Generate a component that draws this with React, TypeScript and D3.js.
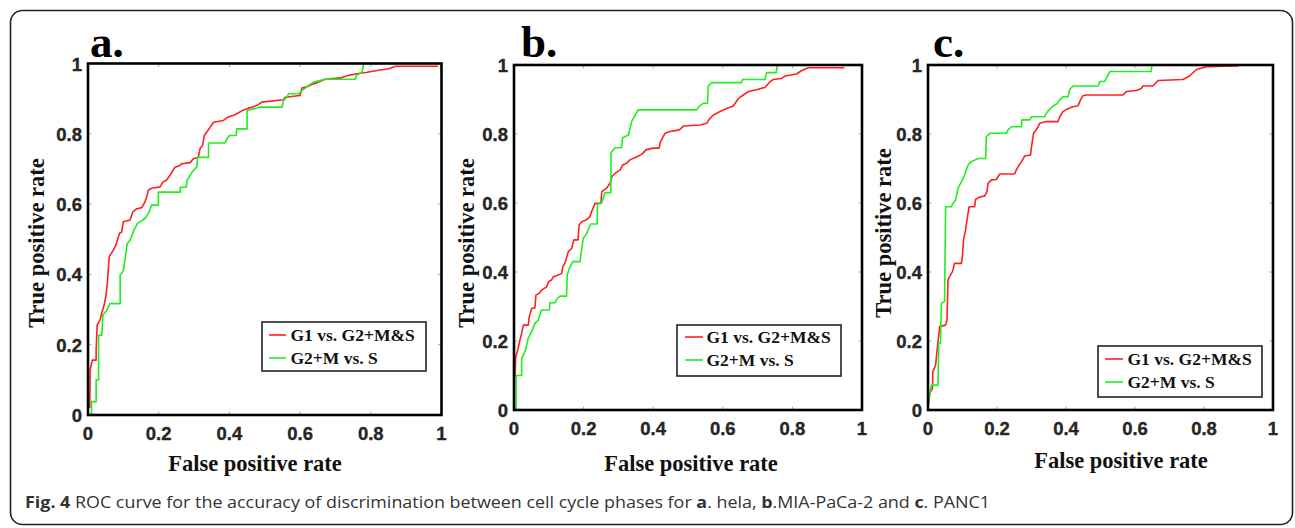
import React from "react";
import * as d3 from "d3";

type Pt = [number, number];

// ---------- data (FPR, TPR) ----------
const helaG1: Pt[] = [[0.005,0.02],[0.006,0.128],[0.012,0.156],[0.023,0.156],[0.023,0.185],[0.026,0.256],[0.034,0.27],[0.039,0.29],[0.045,0.31],[0.051,0.34],[0.055,0.378],[0.06,0.45],[0.066,0.46],[0.072,0.47],[0.079,0.483],[0.089,0.517],[0.095,0.52],[0.1,0.55],[0.119,0.555],[0.127,0.578],[0.138,0.587],[0.152,0.59],[0.161,0.606],[0.166,0.62],[0.171,0.64],[0.18,0.645],[0.204,0.649],[0.212,0.663],[0.222,0.668],[0.232,0.682],[0.246,0.705],[0.26,0.71],[0.265,0.715],[0.289,0.718],[0.298,0.729],[0.312,0.733],[0.317,0.758],[0.324,0.767],[0.329,0.795],[0.336,0.805],[0.346,0.819],[0.355,0.833],[0.383,0.838],[0.397,0.848],[0.412,0.853],[0.426,0.86],[0.44,0.868],[0.454,0.873],[0.468,0.877],[0.478,0.881],[0.492,0.89],[0.553,0.897],[0.558,0.904],[0.6,0.909],[0.605,0.93],[0.62,0.934],[0.638,0.942],[0.652,0.947],[0.671,0.955],[0.714,0.959],[0.733,0.965],[0.756,0.97],[0.79,0.975],[0.818,0.98],[0.851,0.985],[0.87,0.992],[0.99,0.992]];
const helaG2M: Pt[] = [[0.01,0],[0.01,0.038],[0.023,0.038],[0.023,0.1],[0.03,0.1],[0.03,0.227],[0.039,0.227],[0.042,0.284],[0.053,0.298],[0.062,0.317],[0.091,0.317],[0.091,0.398],[0.1,0.41],[0.111,0.488],[0.119,0.497],[0.13,0.526],[0.14,0.545],[0.161,0.559],[0.171,0.573],[0.18,0.597],[0.199,0.597],[0.199,0.634],[0.261,0.634],[0.261,0.648],[0.278,0.648],[0.28,0.667],[0.289,0.682],[0.298,0.696],[0.308,0.705],[0.31,0.733],[0.341,0.733],[0.341,0.774],[0.388,0.774],[0.393,0.786],[0.4,0.795],[0.419,0.795],[0.421,0.814],[0.45,0.814],[0.45,0.866],[0.487,0.876],[0.549,0.876],[0.553,0.895],[0.563,0.904],[0.567,0.914],[0.596,0.914],[0.605,0.923],[0.615,0.93],[0.624,0.9375],[0.638,0.947],[0.671,0.955],[0.756,0.955],[0.759,0.966],[0.775,0.975],[0.78,1]];

const miaG1: Pt[] = [[0.003,0.1],[0.005,0.155],[0.011,0.174],[0.017,0.203],[0.022,0.222],[0.027,0.246],[0.041,0.246],[0.044,0.271],[0.051,0.295],[0.06,0.295],[0.063,0.333],[0.072,0.338],[0.08,0.348],[0.094,0.357],[0.099,0.372],[0.108,0.377],[0.113,0.386],[0.127,0.391],[0.137,0.396],[0.14,0.415],[0.148,0.43],[0.156,0.459],[0.166,0.469],[0.172,0.493],[0.184,0.493],[0.187,0.536],[0.195,0.546],[0.207,0.551],[0.218,0.56],[0.223,0.575],[0.233,0.599],[0.25,0.599],[0.252,0.633],[0.266,0.643],[0.276,0.657],[0.281,0.676],[0.29,0.686],[0.305,0.696],[0.312,0.71],[0.324,0.715],[0.333,0.725],[0.353,0.734],[0.367,0.741],[0.379,0.754],[0.4,0.759],[0.417,0.759],[0.421,0.778],[0.434,0.802],[0.448,0.807],[0.475,0.812],[0.487,0.823],[0.534,0.826],[0.554,0.831],[0.561,0.843],[0.573,0.855],[0.592,0.865],[0.611,0.874],[0.63,0.881],[0.645,0.903],[0.659,0.913],[0.673,0.923],[0.697,0.928],[0.721,0.935],[0.736,0.952],[0.745,0.958],[0.769,0.961],[0.779,0.968],[0.812,0.974],[0.827,0.984],[0.846,0.992],[0.949,0.992]];
const miaG2M: Pt[] = [[0.006,0],[0.006,0.1],[0.022,0.1],[0.022,0.15],[0.032,0.17],[0.041,0.208],[0.051,0.227],[0.06,0.251],[0.07,0.261],[0.079,0.29],[0.102,0.29],[0.103,0.311],[0.118,0.311],[0.123,0.321],[0.132,0.33],[0.151,0.33],[0.153,0.391],[0.161,0.415],[0.169,0.43],[0.19,0.43],[0.192,0.449],[0.199,0.498],[0.209,0.512],[0.22,0.539],[0.239,0.539],[0.24,0.597],[0.252,0.601],[0.261,0.63],[0.278,0.63],[0.279,0.746],[0.29,0.76],[0.309,0.76],[0.312,0.789],[0.329,0.797],[0.338,0.836],[0.348,0.855],[0.357,0.87],[0.525,0.87],[0.533,0.881],[0.544,0.889],[0.556,0.889],[0.558,0.939],[0.568,0.949],[0.654,0.949],[0.657,0.958],[0.721,0.958],[0.726,0.978],[0.753,0.978],[0.757,1]];

const pancG1: Pt[] = [[0.002,0.019],[0.005,0.048],[0.013,0.063],[0.014,0.111],[0.022,0.13],[0.026,0.169],[0.029,0.198],[0.034,0.242],[0.051,0.246],[0.055,0.261],[0.058,0.377],[0.065,0.391],[0.071,0.401],[0.077,0.425],[0.097,0.425],[0.1,0.449],[0.103,0.493],[0.109,0.522],[0.113,0.551],[0.119,0.589],[0.135,0.589],[0.138,0.611],[0.152,0.618],[0.164,0.62],[0.171,0.633],[0.174,0.657],[0.184,0.667],[0.198,0.668],[0.203,0.676],[0.208,0.684],[0.251,0.684],[0.256,0.696],[0.264,0.71],[0.271,0.72],[0.28,0.736],[0.297,0.739],[0.3,0.763],[0.306,0.802],[0.314,0.812],[0.324,0.831],[0.343,0.836],[0.377,0.836],[0.382,0.85],[0.391,0.865],[0.403,0.872],[0.42,0.879],[0.435,0.882],[0.442,0.899],[0.449,0.911],[0.459,0.913],[0.565,0.913],[0.575,0.923],[0.604,0.926],[0.618,0.932],[0.623,0.939],[0.652,0.939],[0.667,0.955],[0.739,0.958],[0.758,0.968],[0.778,0.987],[0.807,0.995],[0.899,0.997]];
const pancG2M: Pt[] = [[0.002,0.019],[0.005,0.048],[0.01,0.072],[0.029,0.072],[0.031,0.193],[0.036,0.193],[0.039,0.309],[0.048,0.314],[0.051,0.589],[0.068,0.589],[0.071,0.597],[0.08,0.609],[0.087,0.643],[0.097,0.662],[0.106,0.681],[0.116,0.71],[0.126,0.72],[0.145,0.729],[0.167,0.729],[0.169,0.792],[0.179,0.802],[0.227,0.802],[0.232,0.812],[0.242,0.821],[0.271,0.821],[0.272,0.841],[0.295,0.841],[0.3,0.85],[0.338,0.85],[0.343,0.86],[0.351,0.87],[0.36,0.879],[0.375,0.889],[0.382,0.899],[0.391,0.908],[0.406,0.908],[0.411,0.929],[0.42,0.939],[0.493,0.939],[0.498,0.952],[0.512,0.952],[0.517,0.961],[0.527,0.981],[0.647,0.981],[0.649,1]];

const ticks = [0, 0.2, 0.4, 0.6, 0.8, 1];
const tickLabels = ["0", "0.2", "0.4", "0.6", "0.8", "1"];
const seriesNames = ["G1 vs. G2+M&S", "G2+M vs. S"];
const panelLetters = ["a.", "b.", "c."];
const xTitle = "False positive rate";
const yTitle = "True positive rate";

const RED = "#ff2020";
const GREEN = "#1fef1f";

interface PanelLayout {
  l: number; t: number; r: number; b: number;
  xtx: number; xty: number; ytx: number; yty: number;
  letterX: number;
  leg: { x: number; y: number; w: number; h: number; lx1: number; lx2: number; tx: number; y1: number; y2: number };
}

const layouts: PanelLayout[] = [
  { l: 88, t: 63.5, r: 441.5, b: 415, xtx: 255, xty: 471, ytx: 44, yty: 243, letterX: 90,
    leg: { x: 262, y: 322, w: 164, h: 49, lx1: 269, lx2: 286, tx: 290.5, y1: 335, y2: 358 } },
  { l: 514, t: 65, r: 862, b: 410, xtx: 691, xty: 471, ytx: 474, yty: 243, letterX: 521,
    leg: { x: 677, y: 325, w: 164, h: 51, lx1: 685, lx2: 703, tx: 706.5, y1: 337, y2: 360 } },
  { l: 928, t: 65, r: 1273, b: 410, xtx: 1121, xty: 468, ytx: 891, yty: 233, letterX: 933,
    leg: { x: 1098, y: 346, w: 164, h: 51, lx1: 1105, lx2: 1123, tx: 1127.5, y1: 359, y2: 382 } },
];

const panelData: Pt[][][] = [
  [helaG1, helaG2M],
  [miaG1, miaG2M],
  [pancG1, pancG2M],
];

function Panel({ idx }: { idx: number }) {
  const L = layouts[idx];
  const x = d3.scaleLinear().domain([0, 1]).range([L.l, L.r]);
  const y = d3.scaleLinear().domain([0, 1]).range([L.b, L.t]);
  const line = d3.line<Pt>().x((d) => x(d[0])).y((d) => y(d[1]));
  const colors = [RED, GREEN];
  const tickLen = 3.5;
  const tickFont = "Arial, 'Liberation Sans', sans-serif";
  const serif = "'Times New Roman', 'Liberation Serif', serif";
  return (
    <g>
      {ticks.slice(1, -1).map((v, i) => (
        <g key={"t" + i} stroke="#a8a8a8" strokeWidth={1}>
          <line x1={x(v)} x2={x(v)} y1={L.b} y2={L.b - tickLen} />
          <line x1={x(v)} x2={x(v)} y1={L.t} y2={L.t + tickLen} />
          <line x1={L.l} x2={L.l + tickLen} y1={y(v)} y2={y(v)} />
          <line x1={L.r} x2={L.r - tickLen} y1={y(v)} y2={y(v)} />
        </g>
      ))}
      {panelData[idx].map((s, i) => (
        <path key={"s" + i} d={line(s) || ""} fill="none" stroke={colors[i]} strokeWidth={1.6} strokeLinejoin="round" />
      ))}
      <rect x={L.l} y={L.t} width={L.r - L.l} height={L.b - L.t} fill="none" stroke="#000" strokeWidth={2.6} />
      {ticks.map((v, i) => (
        <text key={"xl" + i} x={x(v)} y={L.b + 24.5} textAnchor="middle" fontFamily={tickFont} fontWeight="bold" fontSize={18.5} fill="#262626" stroke="#262626" strokeWidth={0.35}>
          {tickLabels[i]}
        </text>
      ))}
      {ticks.map((v, i) => (
        <text key={"yl" + i} x={L.l - 6} y={y(v) + 7} textAnchor="end" fontFamily={tickFont} fontWeight="bold" fontSize={18.5} fill="#262626" stroke="#262626" strokeWidth={0.35}>
          {tickLabels[i]}
        </text>
      ))}
      <text x={L.xtx} y={L.xty} textAnchor="middle" fontFamily={serif} fontWeight="bold" fontSize={22.5} fill="#111">
        {xTitle}
      </text>
      <text transform={`translate(${L.ytx},${L.yty}) rotate(-90)`} textAnchor="middle" fontFamily={serif} fontWeight="bold" fontSize={22.5} fill="#111">
        {yTitle}
      </text>
      <text x={L.letterX} y={57} fontFamily={serif} fontWeight="bold" fontSize={45} fill="#000">
        {panelLetters[idx]}
      </text>
      <rect x={L.leg.x} y={L.leg.y} width={L.leg.w} height={L.leg.h} fill="#fff" stroke="#222" strokeWidth={1.6} />
      {[L.leg.y1, L.leg.y2].map((ly, i) => (
        <g key={"lg" + i}>
          <line x1={L.leg.lx1} x2={L.leg.lx2} y1={ly} y2={ly} stroke={colors[i]} strokeWidth={1.6} />
          <text x={L.leg.tx} y={ly + 6} fontFamily={serif} fontWeight="bold" fontSize={17.5} fill="#111">
            {seriesNames[i]}
          </text>
        </g>
      ))}
    </g>
  );
}

export default function App() {
  const capFont = "'Open Sans', 'Noto Sans', sans-serif";
  return (
    <svg width={1295} height={528} style={{ position: "absolute", left: 0, top: 0, background: "#fff" }}>
      <rect x={0} y={0} width={1295} height={528} fill="#fff" />
      <rect x={10.5} y={10.5} width={1282} height={514} rx={12} ry={12} fill="none" stroke="#222" strokeWidth={1.6} />
      {layouts.map((_, i) => (
        <Panel key={i} idx={i} />
      ))}
      <text x={25} y={508} fontFamily={capFont} fontSize={16} fill="#333" textLength={965} lengthAdjust="spacingAndGlyphs">
        <tspan fontWeight="bold">Fig. 4</tspan>
        <tspan>{" ROC curve for the accuracy of discrimination between cell cycle phases for "}</tspan>
        <tspan fontWeight="bold">a</tspan>
        <tspan>{". hela, "}</tspan>
        <tspan fontWeight="bold">b</tspan>
        <tspan>{".MIA-PaCa-2 and "}</tspan>
        <tspan fontWeight="bold">c</tspan>
        <tspan>{". PANC1"}</tspan>
      </text>
    </svg>
  );
}
